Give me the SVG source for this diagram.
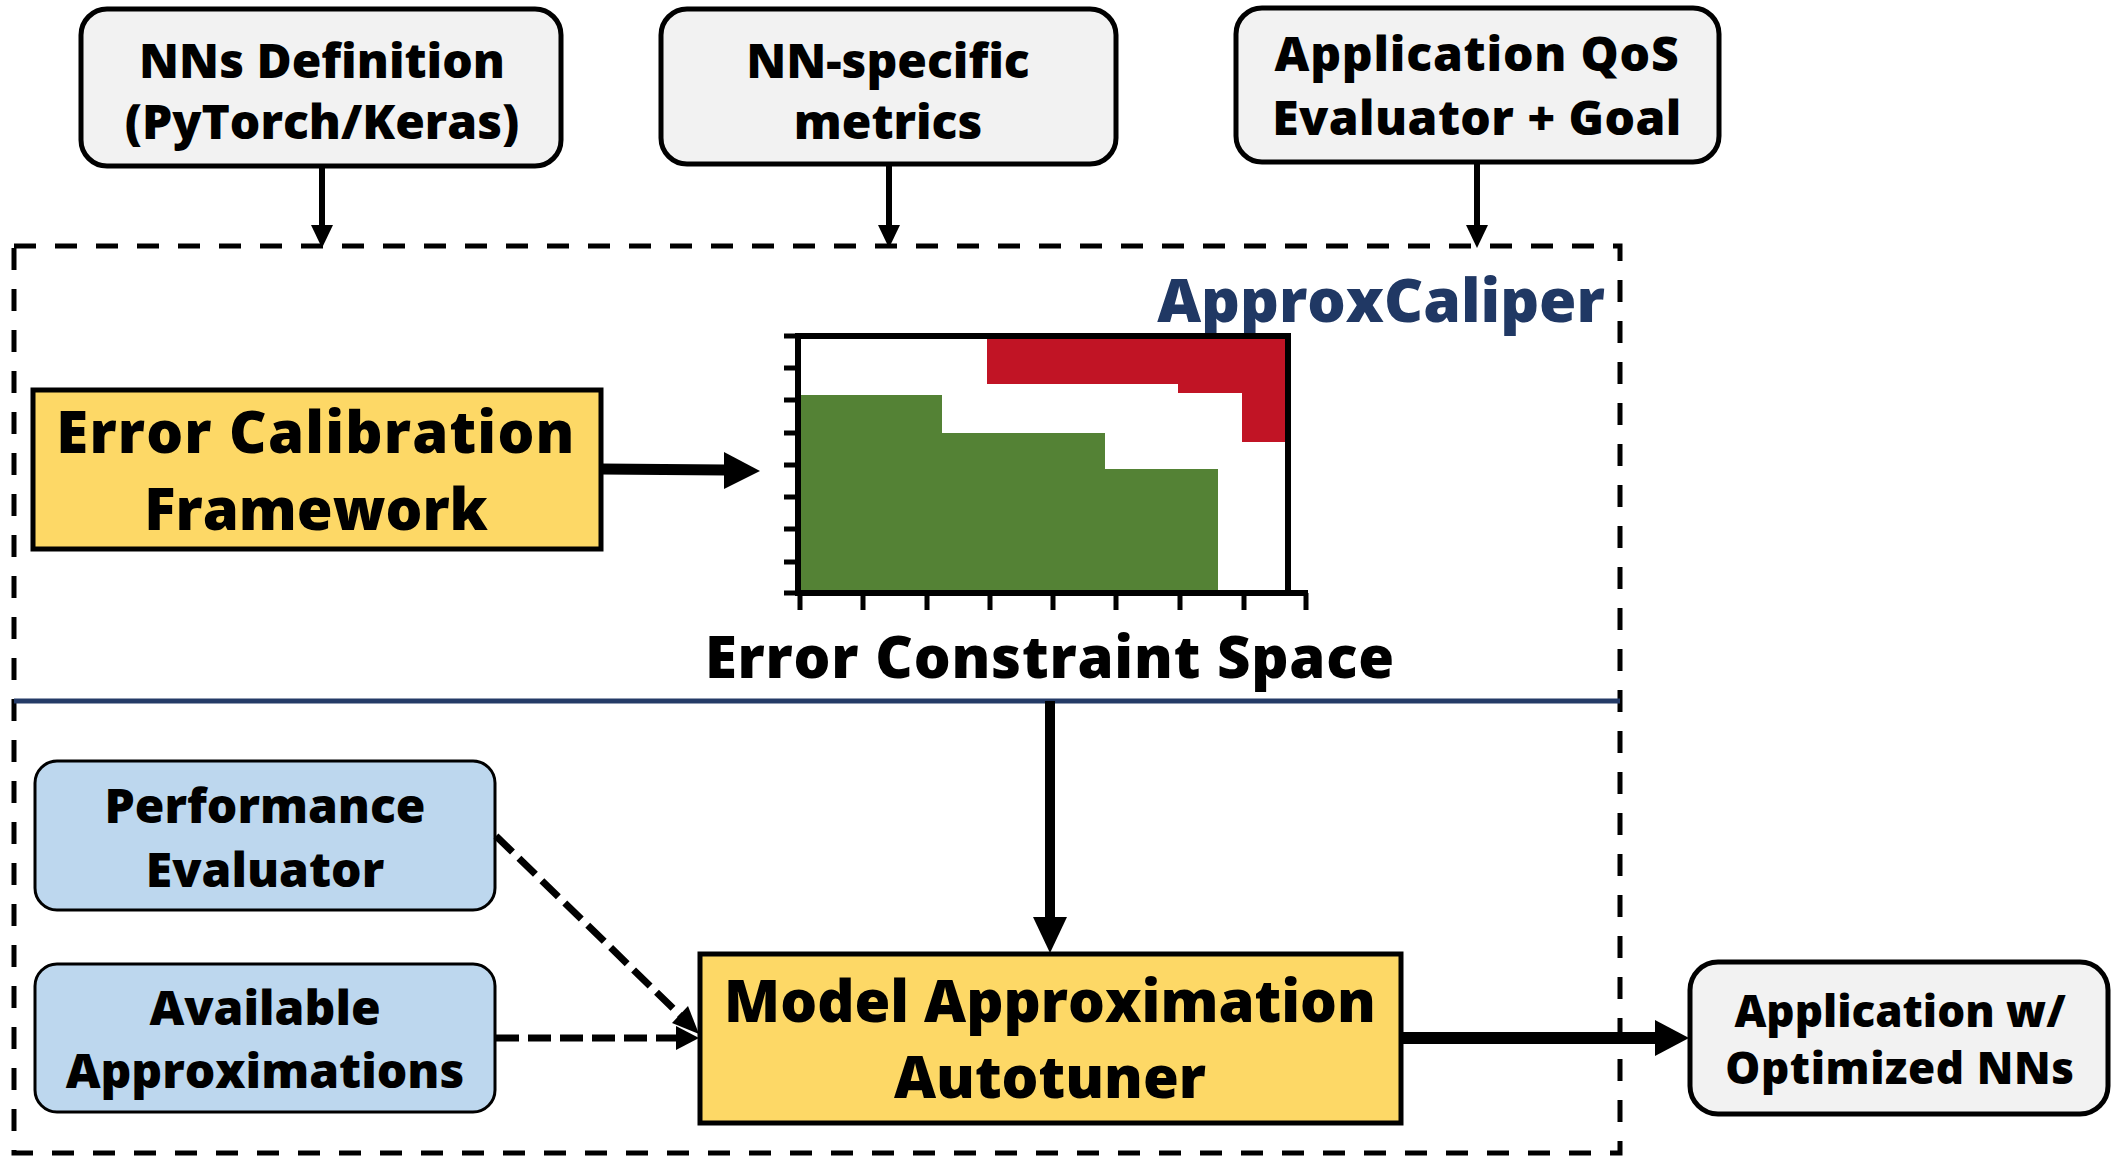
<svg xmlns="http://www.w3.org/2000/svg" width="2111" height="1158" viewBox="0 0 2111 1158">
  <style>
    text { font-family: "Open Sans", Lato, "Liberation Sans", sans-serif; font-weight: 800; fill: #000; text-anchor: middle; }
    .grey { fill: #F2F2F2; stroke: #000; stroke-width: 5; }
    .gold { fill: #FDD866; stroke: #000; stroke-width: 5; }
    .blue { fill: #BDD7EE; stroke: #000; stroke-width: 3; }
    .t-top { font-size: 48px; }
    .t-big { font-size: 58px; }
    .t-mid { font-size: 48px; }
    .t-out { font-size: 44px; }
    .solid { stroke: #000; fill: none; }
    .dash { stroke: #000; fill: none; stroke-width: 7; stroke-dasharray: 23 9; }
    .head { fill: #000; }
  </style>

  <!-- ApproxCaliper framework boundary -->
  <g id="approxcaliper-frame">
    <rect x="14" y="246" width="1606" height="907" fill="none" stroke="#000" stroke-width="5" stroke-dasharray="22 19"/>
    <line x1="14" y1="701" x2="1620" y2="701" stroke="#243B67" stroke-width="5"/>
    <text x="1381" y="322" style="font-size:60.5px; fill:#203864;">ApproxCaliper</text>
  </g>

  <!-- Inputs -->
  <g id="nns-definition">
    <rect class="grey" x="81" y="9" width="480" height="157" rx="26"/>
    <text class="t-top" x="322" y="78">NNs Definition</text>
    <text class="t-top" x="322" y="139">(PyTorch/Keras)</text>
  </g>
  <g id="nn-metrics">
    <rect class="grey" x="661" y="9" width="455" height="155" rx="26"/>
    <text class="t-top" x="888" y="78">NN-specific</text>
    <text class="t-top" x="888" y="139">metrics</text>
  </g>
  <g id="qos-evaluator">
    <rect class="grey" x="1236" y="8" width="483" height="154" rx="26"/>
    <text class="t-top" x="1477" y="71" style="letter-spacing:0.8px">Application QoS</text>
    <text class="t-top" x="1477" y="135" style="letter-spacing:0.4px">Evaluator + Goal</text>
  </g>

  <!-- Error calibration -->
  <g id="error-calibration">
    <rect class="gold" x="33" y="390" width="568" height="159"/>
    <text class="t-big" x="316" y="453" style="letter-spacing:1.2px">Error Calibration</text>
    <text class="t-big" x="316" y="530">Framework</text>
  </g>

  <!-- Error constraint space chart -->
  <g id="error-constraint-space">
    <!-- feasible region -->
    <path d="M800 395 H942 V433 H1105 V469 H1218 V593 H800 Z" fill="#548235"/>
    <!-- infeasible region -->
    <path d="M987 336 H1288 V442 H1242 V393 H1178 V384 H987 Z" fill="#C11425"/>
    <!-- frame -->
    <path d="M798 336 H1288 V593" fill="none" stroke="#000" stroke-width="6"/>
    <path d="M798 333 V593 H1308" fill="none" stroke="#000" stroke-width="6"/>
    <!-- y ticks -->
    <path d="M784 336 H798 M784 368 H798 M784 400 H798 M784 433 H798 M784 465 H798 M784 497 H798 M784 529 H798 M784 562 H798 M784 593 H798" stroke="#000" stroke-width="5"/>
    <!-- x ticks -->
    <path d="M800 593 V610 M863 593 V610 M927 593 V610 M990 593 V610 M1053 593 V610 M1116 593 V610 M1180 593 V610 M1244 593 V610 M1306 593 V610" stroke="#000" stroke-width="5"/>
    <text class="t-big" x="1050" y="678" style="letter-spacing:0.8px">Error Constraint Space</text>
  </g>

  <!-- Tuning inputs -->
  <g id="performance-evaluator">
    <rect class="blue" x="35" y="761" width="460" height="149" rx="22"/>
    <text class="t-mid" x="265" y="823">Performance</text>
    <text class="t-mid" x="265" y="887">Evaluator</text>
  </g>
  <g id="available-approximations">
    <rect class="blue" x="35" y="964" width="460" height="148" rx="22"/>
    <text class="t-mid" x="265" y="1025">Available</text>
    <text class="t-mid" x="265" y="1088">Approximations</text>
  </g>

  <!-- Autotuner -->
  <g id="model-autotuner">
    <rect class="gold" x="700" y="954" width="701" height="169"/>
    <text class="t-big" x="1050" y="1022">Model Approximation</text>
    <text class="t-big" x="1050" y="1098">Autotuner</text>
  </g>

  <!-- Output -->
  <g id="optimized-application">
    <rect class="grey" x="1690" y="962" width="418" height="152" rx="28"/>
    <text class="t-out" x="1900" y="1027">Application w/</text>
    <text class="t-out" x="1900" y="1084" style="letter-spacing:0.6px">Optimized NNs</text>
  </g>

  <!-- Connectors -->
  <g id="connectors">
    <line class="solid" x1="322" y1="166" x2="322" y2="228" stroke-width="6"/>
    <polygon class="head" points="311,225 333,225 322,248"/>
    <line class="solid" x1="889" y1="164" x2="889" y2="228" stroke-width="6"/>
    <polygon class="head" points="878,225 900,225 889,248"/>
    <line class="solid" x1="1477" y1="162" x2="1477" y2="228" stroke-width="6"/>
    <polygon class="head" points="1466,225 1488,225 1477,248"/>

    <line class="solid" x1="601" y1="469" x2="726" y2="470" stroke-width="11"/>
    <polygon class="head" points="724,452 760,471 724,489"/>

    <line class="solid" x1="1050" y1="701" x2="1050" y2="920" stroke-width="10"/>
    <polygon class="head" points="1033,917 1067,917 1050,953"/>

    <line class="dash" x1="496" y1="836" x2="683" y2="1018"/>
    <polygon class="head" points="672,1023 688,1006 699,1034"/>
    <line class="dash" x1="496" y1="1038" x2="680" y2="1038"/>
    <polygon class="head" points="676,1026 699,1038 676,1050"/>

    <line class="solid" x1="1401" y1="1038" x2="1660" y2="1038" stroke-width="12"/>
    <polygon class="head" points="1655,1020 1689,1038 1655,1056"/>
  </g>
</svg>
